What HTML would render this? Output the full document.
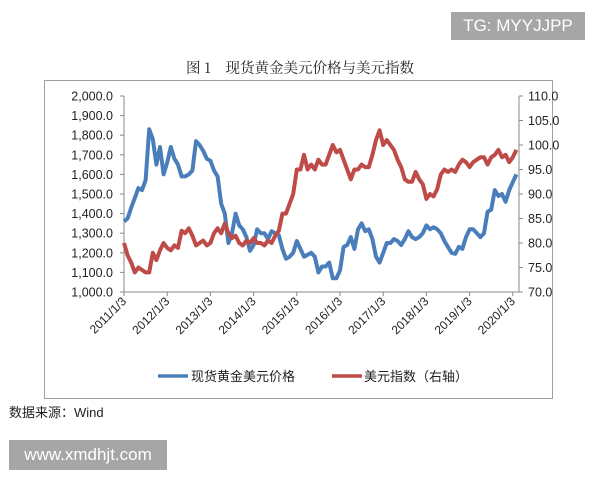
<!DOCTYPE html>
<html><head><meta charset="utf-8">
<style>
body{margin:0;width:600px;height:480px;background:#fff;overflow:hidden;position:relative;font-family:"Liberation Sans","Noto Sans CJK SC",sans-serif;}
#tg{position:absolute;left:451px;top:12px;width:134px;height:28px;background:#a6a6a6;color:#fff;font-size:17px;line-height:28px;text-align:center;}
#www{position:absolute;left:9px;top:440px;width:158px;height:30px;background:#a6a6a6;color:#fff;font-size:17px;line-height:30px;text-align:center;}
#src{position:absolute;left:9px;top:402px;font-size:13px;color:#222;}
</style></head><body>
<div id="tg">TG: MYYJJPP</div>
<svg width="600" height="480" style="position:absolute;left:0;top:0">
<text x="300" y="73" text-anchor="middle" font-size="14.5" fill="#222" font-family="'Noto Serif CJK SC',serif">图 1　现货黄金美元价格与美元指数</text>
<rect x="44.5" y="80.5" width="508" height="318" fill="none" stroke="#a0a0a0"/>
<g id="axes"></g>
<g id="series"></g>
<g>
<line x1="158" y1="376" x2="188" y2="376" stroke="#4a7ebb" stroke-width="3.5"/>
<text x="191" y="381" font-size="13" fill="#222">现货黄金美元价格</text>
<line x1="332" y1="376" x2="362" y2="376" stroke="#be4b48" stroke-width="3.5"/>
<text x="364" y="381" font-size="13" fill="#222">美元指数（右轴）</text>
</g>
</svg>
<div id="src">数据来源：Wind</div>
<div id="www">www.xmdhjt.com</div>
<script>
const yearLabels=["2011/1/3","2012/1/3","2013/1/3","2014/1/3","2015/1/3","2016/1/3","2017/1/3","2018/1/3","2019/1/3","2020/1/3"];
const leftTicks=[1000,1100,1200,1300,1400,1500,1600,1700,1800,1900,2000];
const rightTicks=[70,75,80,85,90,95,100,105,110];
const gold=[1360,1375,1430,1480,1530,1520,1570,1830,1780,1650,1740,1600,
1660,1740,1680,1650,1590,1590,1600,1620,1770,1750,1720,1680,
1670,1620,1590,1450,1400,1250,1300,1400,1340,1320,1280,1210,
1240,1320,1300,1300,1270,1310,1300,1290,1220,1170,1180,1200,
1260,1220,1180,1190,1200,1180,1100,1130,1130,1150,1070,1070,
1110,1230,1240,1280,1220,1320,1350,1310,1320,1270,1180,1150,
1200,1250,1250,1270,1260,1240,1270,1310,1280,1270,1280,1300,
1340,1320,1330,1320,1300,1260,1230,1200,1195,1230,1220,1280,
1320,1320,1300,1280,1300,1410,1420,1520,1490,1500,1460,1520,
1560,1600];
const usd=[80,77.5,76,74,75,74.5,74,74,78,76.5,78.5,80,
79,78.5,79.5,79,82.5,82,83,81.5,79.5,80,80.5,79.5,
80,82,83,82,84,82,81,81.5,80,79.5,80.5,80,
81,80,80,79.5,80.5,80,81.5,82.5,86,86,88,90,
95,95,98,95,96,95,97,96,96,98,100,98.5,
99,97,95,93,95,95,96,95.5,95.5,98,101,103,
100,101,100,99,97,95.5,93,92.5,92.5,94.5,93,92,
89,90,89.5,91,94,95,94.5,95,94.5,96,97,96.5,
95.5,96.5,97,97.5,97.5,96,97.5,98,99,97.5,98,96.5,
97.5,99];
const X0=124,X1=519,YT=96,YB=292;
const xS=m=>X0+m*(43.2/12);
const yL=v=>YB-(v-1000)/1000*(YB-YT);
const yR=v=>YB-(v-70)/40*(YB-YT);
const NS="http://www.w3.org/2000/svg";
const ax=document.getElementById('axes'),se=document.getElementById('series');
function mk(tag,attrs,parent,txt){const e=document.createElementNS(NS,tag);for(const k in attrs)e.setAttribute(k,attrs[k]);if(txt!==undefined)e.textContent=txt;parent.appendChild(e);return e;}
let e=mk('line',{x1:X0,y1:YT,x2:X0,y2:YB,stroke:'#888'},ax);


e=mk('line',{x1:X1,y1:YT,x2:X1,y2:YB,stroke:'#888'},ax);


e=mk('line',{x1:X0,y1:YB,x2:X1,y2:YB,stroke:'#888'},ax);


leftTicks.forEach(v=>{const y=yL(v);mk('line',{x1:X0-4,y1:y,x2:X0,y2:y,stroke:'#888'},ax);
const t=mk('text',{x:X0-11,y:y+4.5,'text-anchor':'end','font-size':12.5,fill:'#222'},ax,v.toLocaleString('en-US',{minimumFractionDigits:1}));

});
rightTicks.forEach(v=>{const y=yR(v);mk('line',{x1:X1,y1:y,x2:X1+4,y2:y,stroke:'#888'},ax);
const t=mk('text',{x:X1+9,y:y+4.5,'font-size':12.5,fill:'#222'},ax,v.toFixed(1));

});
yearLabels.forEach((l,i)=>{const x=xS(i*12);mk('line',{x1:x,y1:YB,x2:x,y2:YB+4,stroke:'#888'},ax);
const t=mk('text',{x:x+3,y:YB+10,'text-anchor':'end','font-size':12,fill:'#222',transform:`rotate(-45 ${x+3} ${YB+10})`},ax,l);

});
const p1=mk('path',{d:gold.map((v,i)=>(i?'L':'M')+xS(i).toFixed(1)+','+yL(v).toFixed(1)).join(''),fill:'none',stroke:'#4a7ebb','stroke-width':4,'stroke-linejoin':'round'},se);


const p2=mk('path',{d:usd.map((v,i)=>(i?'L':'M')+xS(i).toFixed(1)+','+yR(v).toFixed(1)).join(''),fill:'none',stroke:'#be4b48','stroke-width':4,'stroke-linejoin':'round'},se);


</script>
</body></html>
